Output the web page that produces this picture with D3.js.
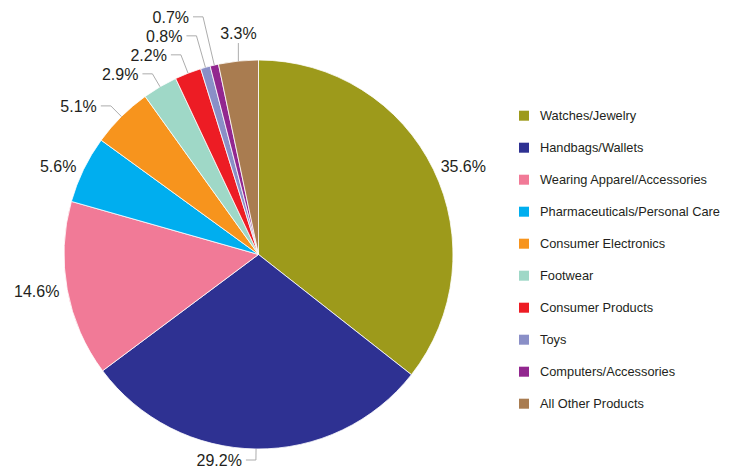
<!DOCTYPE html>
<html>
<head>
<meta charset="utf-8">
<script src="https://cdn.jsdelivr.net/npm/d3@7"></script>
<style>
  html, body { margin: 0; padding: 0; background: #fff; }
  svg { display: block; }
  text { font-family: "Liberation Sans", Arial, Helvetica, sans-serif; }
</style>
</head>
<body>
<svg id="chart" width="732" height="470"></svg>
<script>
// Share of seizures by product category (percent), clockwise from 12 o'clock
const categories = [
  "Watches/Jewelry",
  "Handbags/Wallets",
  "Wearing Apparel/Accessories",
  "Pharmaceuticals/Personal Care",
  "Consumer Electronics",
  "Footwear",
  "Consumer Products",
  "Toys",
  "Computers/Accessories",
  "All Other Products"
];
const shares = [35.6, 29.2, 14.6, 5.6, 5.1, 2.9, 2.2, 0.8, 0.7, 3.3];
const sliceColors = [
  "#9d9a1b", "#2e3192", "#f17a97", "#00aeef", "#f7941d",
  "#9fd8c7", "#ed1c24", "#8a8fc7", "#92278f", "#a97c50"
];

const W = 732, H = 470;
const cx = 258.5, cy = 254.5, R = 194.5;

const LEADER_BELOW = 5.5;   // slices under this share get a leader line
const BEND_OUT = 15;        // leader elbow distance beyond the rim
const LABEL_OUT = 8;        // gap between rim and a label without leader
const ROW = 19;             // minimum vertical spacing between side labels
const ELBOW = 10;           // horizontal run of a leader
const GAP = 4;              // space between leader and its text
const RISE = 18;            // vertical leader length for labels above/below the pie

const fmt = v => d3.format(".1f")(v) + "%";

const data = categories.map((c, i) => ({ name: c, value: shares[i], color: sliceColors[i] }));

const svg = d3.select("#chart");
const g = svg.append("g").attr("transform", `translate(${cx},${cy})`);

const pie = d3.pie().sort(null).value(d => d.value);
const arcs = pie(data);
const arc = d3.arc().innerRadius(0).outerRadius(R);

g.selectAll("path.slice")
  .data(arcs)
  .join("path")
  .attr("class", "slice")
  .attr("d", arc)
  .attr("fill", d => d.data.color)
  .attr("stroke", "#fff")
  .attr("stroke-width", 0.8);

// ---- label layout ----
const topLimit = -cy + 10, bottomLimit = H - cy - 10;
const labels = arcs.map(d => {
  const a = (d.startAngle + d.endAngle) / 2;
  const s = Math.sin(a), c = Math.cos(a);
  const edge = [s * R, -c * R];
  const side = s < 0 ? -1 : 1;
  const nearVertical = Math.abs(s) < 0.2;
  let leader = d.data.value < LEADER_BELOW || nearVertical;
  let mode = "side";
  if (nearVertical) {
    // centred above/below the rim when there is room for it
    const baseline = c > 0 ? edge[1] - RISE - GAP : edge[1] + RISE + GAP + 12;
    if (baseline > -cy + 14 && baseline < H - cy - 2) mode = "vertical";
  }
  const out = leader ? R + BEND_OUT : R + LABEL_OUT;
  return { d, s, c, edge, side, leader, mode, x: s * out, y: -c * out };
});

// keep side labels inside the drawing area
labels.forEach(l => { if (l.mode === "side") l.y = Math.max(topLimit, Math.min(bottomLimit, l.y)); });

// left side: stack upward from the bottom; right side: stack downward
const left = labels.filter(l => l.mode === "side" && l.side < 0).sort((a, b) => b.y - a.y);
for (let i = 1; i < left.length; i++) left[i].y = Math.min(left[i].y, left[i - 1].y - ROW);
const right = labels.filter(l => l.mode === "side" && l.side > 0).sort((a, b) => a.y - b.y);
for (let i = 1; i < right.length; i++) right[i].y = Math.max(right[i].y, right[i - 1].y + ROW);

// leader elbow follows the slice's ray to the label's final height
labels.forEach(l => {
  if (l.mode === "side" && l.leader && Math.abs(l.c) > 0.05) {
    const t = (l.edge[1] - l.y) / l.c;
    l.x = l.edge[0] + t * l.s;
  }
});

const lg = g.append("g");
labels.forEach(l => {
  const txt = fmt(l.d.data.value);
  if (l.mode === "vertical") {
    const dir = l.c > 0 ? -1 : 1;
    const end = [l.edge[0], l.edge[1] + dir * RISE];
    lg.append("path")
      .attr("d", d3.line()([l.edge, end]))
      .attr("fill", "none").attr("stroke", "#a3a3a3").attr("stroke-width", 0.9);
    lg.append("text")
      .attr("x", l.edge[0])
      .attr("y", dir < 0 ? end[1] - GAP : end[1] + GAP + 12)
      .attr("text-anchor", "middle")
      .attr("font-size", 16).attr("fill", "#231f20")
      .text(txt);
  } else if (l.leader) {
    const bend = [l.x, l.y];
    const tip = [l.x + l.side * ELBOW, l.y];
    lg.append("path")
      .attr("d", d3.line()([l.edge, bend, tip]))
      .attr("fill", "none").attr("stroke", "#a3a3a3").attr("stroke-width", 0.9);
    lg.append("text")
      .attr("x", l.x + l.side * (ELBOW + GAP))
      .attr("y", l.y).attr("dy", "0.36em")
      .attr("text-anchor", l.side < 0 ? "end" : "start")
      .attr("font-size", 16).attr("fill", "#231f20")
      .text(txt);
  } else {
    lg.append("text")
      .attr("x", l.x)
      .attr("y", l.y).attr("dy", "0.36em")
      .attr("text-anchor", l.side < 0 ? "end" : "start")
      .attr("font-size", 16).attr("fill", "#231f20")
      .text(txt);
  }
});

// ---- legend ----
const rowY = d3.scalePoint().domain(categories).range([115.7, 403.7]);
const legend = svg.append("g");
const item = legend.selectAll("g.item")
  .data(data)
  .join("g")
  .attr("class", "item")
  .attr("transform", d => `translate(519,${rowY(d.name)})`);
item.append("rect")
  .attr("x", 0).attr("y", -5).attr("width", 10).attr("height", 10)
  .attr("fill", d => d.color);
item.append("text")
  .attr("x", 21).attr("y", 0).attr("dy", "0.36em")
  .attr("font-size", 12.8).attr("fill", "#231f20")
  .text(d => d.name);
</script>
</body>
</html>
